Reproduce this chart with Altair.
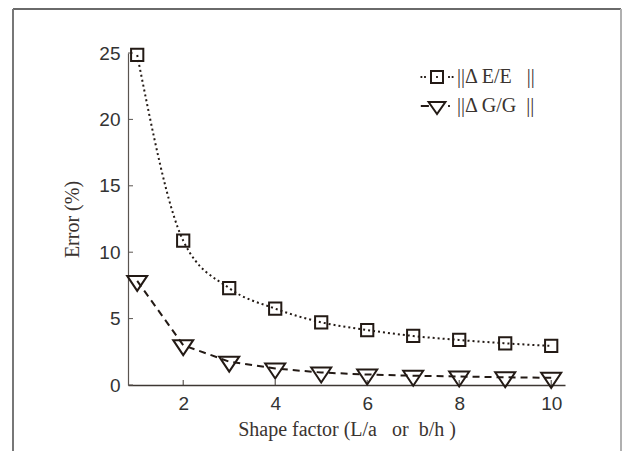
import altair as alt
import pandas as pd

# ---- data ----
shape_factor = [1, 2, 3, 4, 5, 6, 7, 8, 9, 10]
err_E = [24.85, 10.87, 7.29, 5.75, 4.72, 4.14, 3.69, 3.39, 3.14, 2.94]
err_G = [7.84, 3.00, 1.76, 1.24, 0.94, 0.79, 0.70, 0.64, 0.58, 0.54]
x_ticks = [2, 4, 6, 8, 10]
y_ticks = [0, 5, 10, 15, 20, 25]
NB = "\u00a0"
legend_labels = ["||\u0394 E/E" + NB * 3 + "||", "||\u0394 G/G" + NB * 2 + "||"]
x_title = "Shape factor (L/a" + NB * 3 + "or" + NB * 2 + "b/h" + NB + ")"

INK = "#231a15"
TXT = "#3a3330"
W, H = 437, 332

df_E = pd.DataFrame({"x": shape_factor, "y": err_E})
df_G = pd.DataFrame({"x": shape_factor, "y": err_G})
df_leg = pd.DataFrame({"x": [1, 1], "y": [0, 0], "series": legend_labels})
df_xt = pd.DataFrame({"t": x_ticks})
df_yt = pd.DataFrame({"t": y_ticks})

xscale = alt.Scale(domain=[0.8, 10.3], nice=False, zero=False)
yscale = alt.Scale(domain=[0, 25], nice=False)
xaxis = alt.Axis(values=x_ticks, ticks=False, grid=False, labelFont="Liberation Sans",
                 labelFontSize=19, labelColor="#333333", labelPadding=9,
                 domainColor="#3d3733", domainWidth=1.5,
                 title=x_title, titleFont="Liberation Serif",
                 titleFontSize=20, titleFontWeight="normal", titleColor=TXT, titlePadding=6)
yaxis = alt.Axis(values=y_ticks, ticks=False, grid=False, labelFont="Liberation Sans",
                 labelFontSize=19, labelColor="#333333", labelPadding=8,
                 domainColor="#5a5450", domainWidth=1.2,
                 title="Error (%)", titleFont="Liberation Serif", titleFontSize=20,
                 titleFontWeight="normal", titleColor=TXT, titlePadding=16)


def X(f):
    return alt.X(f, type="quantitative", scale=xscale, axis=xaxis)


def Y(f):
    return alt.Y(f, type="quantitative", scale=yscale, axis=yaxis)


TRI = "M0,1L-1,-0.5L1,-0.5Z"
SQ_LEG = ("M-1,-1H1V1H-1Z"
          "M-2.75,0H-2.45M-2.15,0H-1.85M-0.15,0H0.15M1.85,0H2.15M2.45,0H2.75")
TRI_LEG = ("M-2.7,0H-1.35"
           "M0,1.33L-1.4,-0.67L1.4,-0.67Z"
           "M1.85,0H2.15")

line_E = alt.Chart(df_E).mark_line(
    color=INK, strokeWidth=2, strokeDash=[2, 3], interpolate="monotone"
).encode(x=X("x"), y=Y("y"))
pts_E = alt.Chart(df_E).mark_point(
    shape="square", size=150, filled=False, color=INK, strokeWidth=2, opacity=1
).encode(x=X("x"), y=Y("y"))
line_G = alt.Chart(df_G).mark_line(
    color=INK, strokeWidth=2, strokeDash=[7, 5]
).encode(x=X("x"), y=Y("y"))
pts_G = alt.Chart(df_G).mark_point(
    shape=TRI, size=400, filled=False, color=INK, strokeWidth=2, opacity=1
).encode(x=X("x"), y=Y("y"))

legend_layer = alt.Chart(df_leg).transform_filter("false").mark_point(
    filled=False, color=INK, strokeWidth=2, opacity=1
).encode(
    x=X("x"), y=Y("y"),
    shape=alt.Shape("series:N",
                    scale=alt.Scale(domain=legend_labels, range=[SQ_LEG, TRI_LEG]),
                    legend=alt.Legend(title=None, orient="none", legendX=299, legendY=14,
                                      symbolSize=144, symbolStrokeWidth=2,
                                      symbolStrokeColor=INK, symbolFillColor="transparent",
                                      symbolOpacity=1,
                                      labelFont="Liberation Serif", labelFontSize=20,
                                      labelColor=TXT, labelOffset=10, rowPadding=9,
                                      padding=0, labelLimit=300)),
)

xt = alt.Chart(df_xt).mark_rule(color="#3d3733", strokeWidth=1).encode(
    x=X("t"), y=alt.value(H), y2=alt.value(H - 5))
yt = alt.Chart(df_yt).mark_rule(color="#5a5450", strokeWidth=1).encode(
    y=Y("t"), x=alt.value(0), x2=alt.value(5))

frame_top = alt.Chart(df_xt).mark_rule(color="#6a6a6a", strokeWidth=2).encode(
    x=alt.value(-115), x2=alt.value(493), y=alt.value(-44))
frame_left = alt.Chart(df_xt).mark_rule(color="#777777", strokeWidth=1.5).encode(
    x=alt.value(-115), y=alt.value(-44), y2=alt.value(420))
frame_right = alt.Chart(df_xt).mark_rule(color="#b0b0b0", strokeWidth=1.5).encode(
    x=alt.value(493), y=alt.value(-44), y2=alt.value(420))

chart = alt.layer(
    frame_top, frame_left, frame_right, xt, yt,
    line_E, line_G, pts_E, pts_G, legend_layer
).properties(
    width=W, height=H,
    padding={"left": 120, "top": 45, "right": 57, "bottom": 66},
    autosize=alt.AutoSizeParams(type="none"),
    background="white",
).configure_view(stroke=None)

chart.save("out.html", embed_options={"renderer": "svg", "actions": False})
